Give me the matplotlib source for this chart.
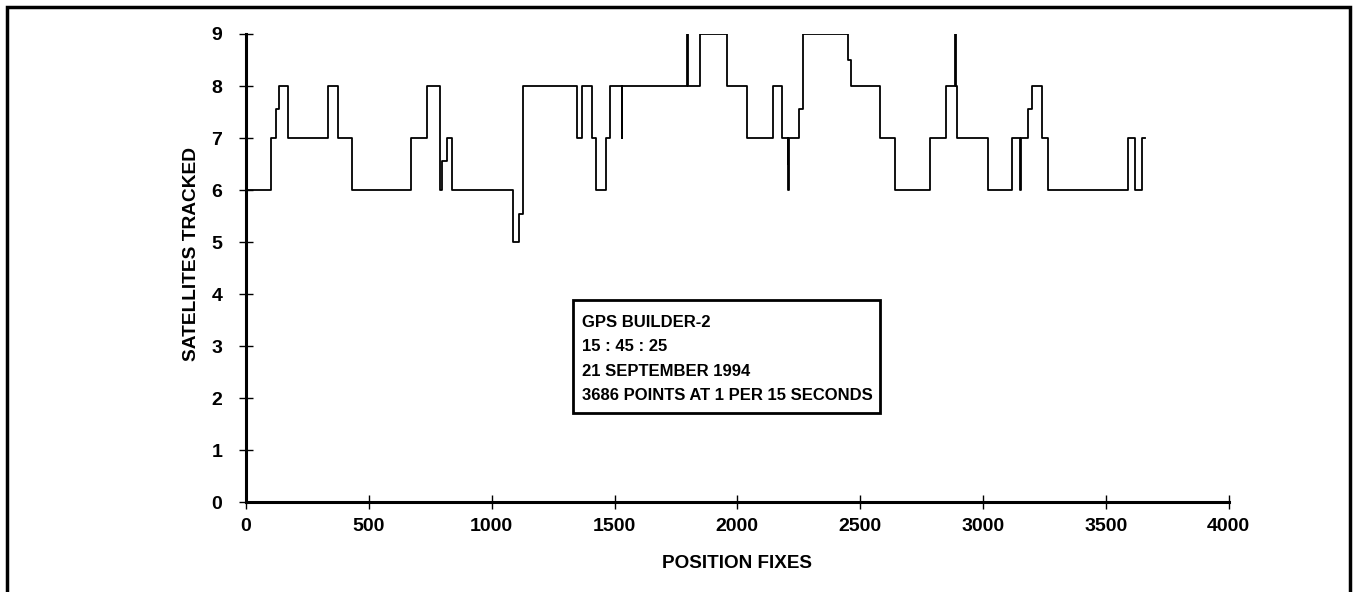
import matplotlib
matplotlib.use("Agg")
import matplotlib.pyplot as plt
from matplotlib.patches import Rectangle

plt.rcParams['font.family'] = ['Liberation Sans', 'DejaVu Sans']
plt.rcParams['font.weight'] = 'bold'

# position fix where the satellite count changes, and the count from there on
fix_start = [0, 100, 122, 134, 172, 335, 376, 433, 672, 736,
             790, 797, 817, 840, 1088, 1112, 1126, 1346, 1367, 1410,
             1425, 1465, 1482, 1529, 1531, 1796, 1798, 1848, 1957, 2038,
             2146, 2181, 2206, 2207, 2208, 2209, 2250, 2266, 2452, 2461,
             2582, 2642, 2783, 2849, 2886, 2888, 2895, 3022, 3119, 3152,
             3154, 3184, 3201, 3239, 3266, 3591, 3619, 3646]
sats = [6, 7, 7.55, 8, 7, 8, 7, 6, 7, 8,
        6, 6.55, 7, 6, 5, 5.55, 8, 7, 8, 7,
        6, 7, 8, 7, 8, 9, 8, 9, 8, 7,
        8, 7, 6.5, 7, 6, 7, 7.55, 9, 8.5, 8,
        7, 6, 7, 8, 9, 8, 7, 6, 7, 6,
        7, 7.55, 8, 7, 6, 7, 6, 7]
last_fix = 3661

x_ticks = [0, 500, 1000, 1500, 2000, 2500, 3000, 3500, 4000]
y_ticks = list(range(10))

info = ["GPS BUILDER-2", "15 : 45 : 25", "21 SEPTEMBER 1994",
        "3686 POINTS AT 1 PER 15 SECONDS"]

W, H = 1354, 592
fig = plt.figure(figsize=(W / 100, H / 100), dpi=100)
ax = fig.add_axes([246 / W, 1 - 502.3 / H, (1228.7 - 246) / W, (502.3 - 34) / H])

ax.plot(fix_start + [last_fix], sats + [sats[-1]], drawstyle='steps-post',
        color='black', lw=1.3)

ax.set_xlim(0, 4000)
ax.set_ylim(0, 9)
ax.set_xticks(x_ticks)
ax.set_yticks(y_ticks)
for s in ['top', 'right']:
    ax.spines[s].set_visible(False)
for s in ['left', 'bottom']:
    ax.spines[s].set_linewidth(2.2)
ax.tick_params(axis='both', direction='inout', length=10, width=1.0,
               labelsize=14, color='black')
ax.tick_params(axis='y', pad=12)
ax.tick_params(axis='x', pad=6)
for lab in ax.get_xticklabels() + ax.get_yticklabels():
    lab.set_fontweight('bold')

ax.set_xlabel("POSITION FIXES", fontsize=13.6, fontweight='bold', va='top')
ax.xaxis.set_label_coords(0.5, -0.112)
ax.set_ylabel("SATELLITES TRACKED", fontsize=13.8, fontweight='bold')
ax.yaxis.set_label_coords(-0.047, 0.531)

# info box
fig.add_artist(Rectangle((573 / W, 1 - 413 / H), (880 - 573) / W, (413 - 300) / H,
                         transform=fig.transFigure, fill=False, lw=2, color='black'))
for i, line in enumerate(info):
    fig.text(582 / W, 1 - (322 + i * 24.5) / H, line, fontsize=12, fontweight='bold',
             va='center', ha='left')

# outer frame, open at the bottom edge of the picture
fig.add_artist(Rectangle((7 / W, -0.05), (1350 - 7) / W, 1.05 - 7 / H,
                         transform=fig.transFigure, fill=False, lw=2.5, color='black'))

fig.savefig("out.png", dpi=100)
